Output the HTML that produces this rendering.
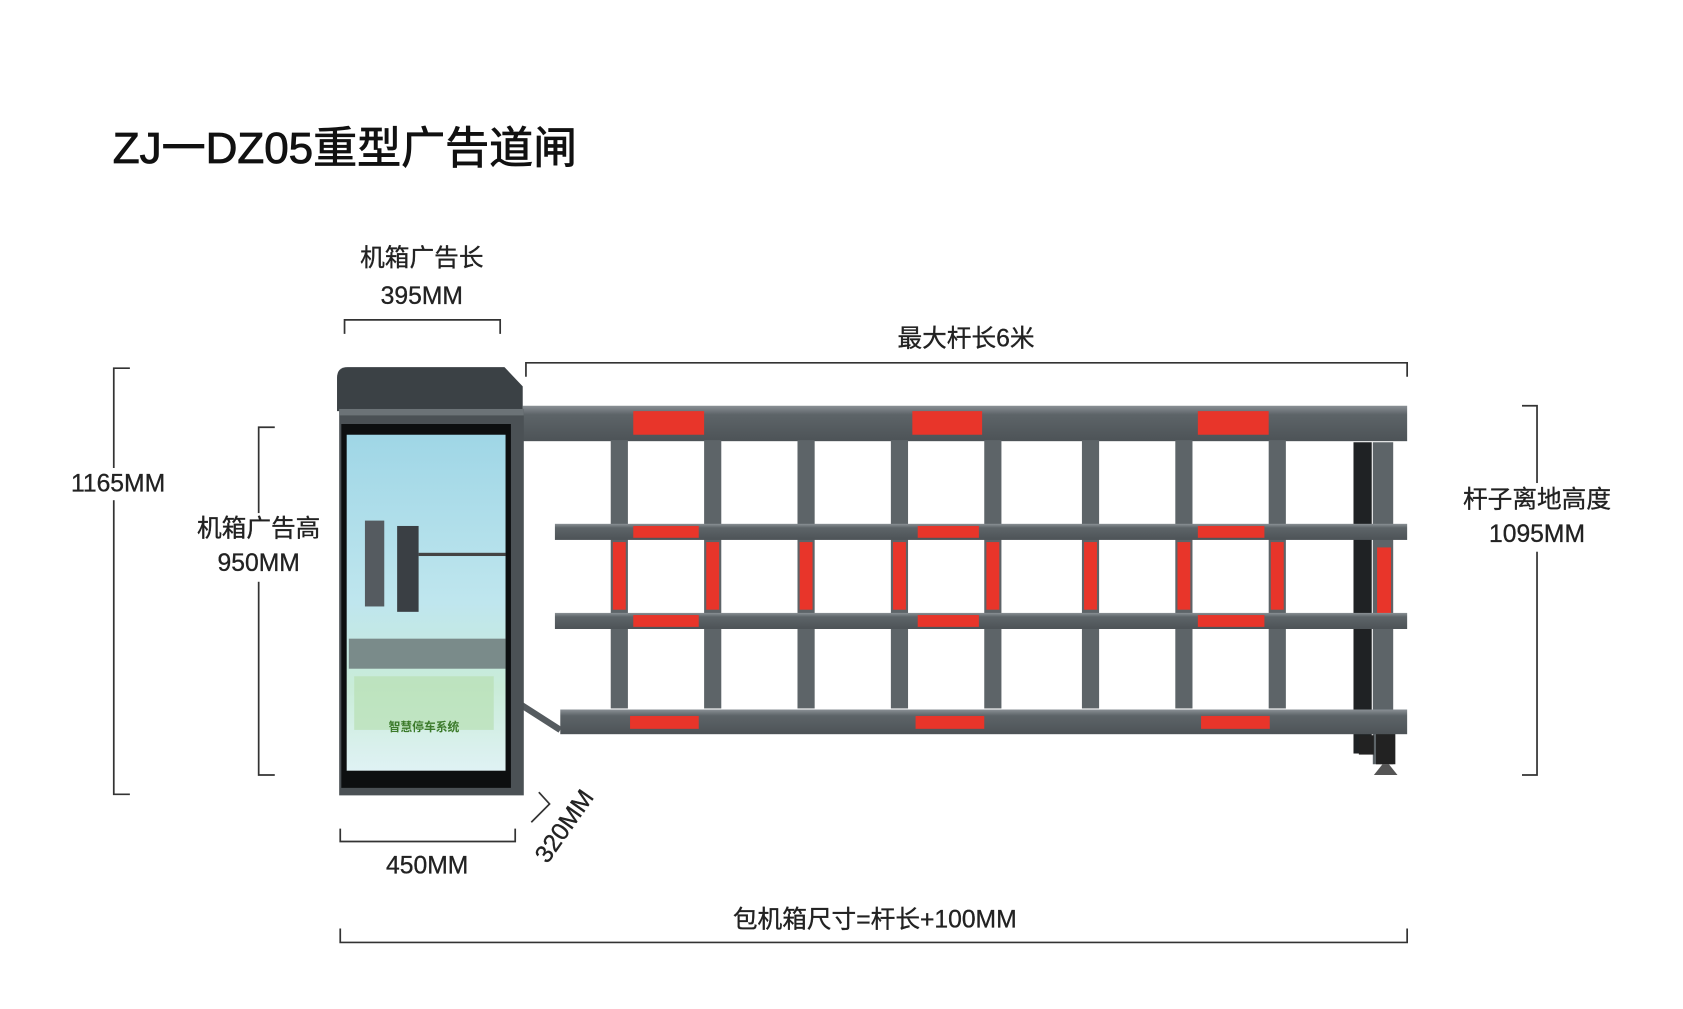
<!DOCTYPE html>
<html><head><meta charset="utf-8"><style>
html,body{margin:0;padding:0;background:#fff;width:1683px;height:1009px;overflow:hidden}
svg{display:block}
text{font-family:"Liberation Sans","Noto Sans CJK SC",sans-serif;fill:#222}
</style></head><body>
<svg width="1683" height="1009" viewBox="0 0 1568 940" xmlns="http://www.w3.org/2000/svg">
<defs>
<linearGradient id="scr" x1="0" y1="0" x2="0" y2="1">
<stop offset="0" stop-color="#9fd6e6"/><stop offset="0.5" stop-color="#bfe6ee"/><stop offset="0.75" stop-color="#c9ecd8"/><stop offset="1" stop-color="#dff2f4"/></linearGradient>
<linearGradient id="bar" x1="0" y1="0" x2="0" y2="1">
<stop offset="0" stop-color="#8a9095"/><stop offset="0.25" stop-color="#5d6468"/><stop offset="1" stop-color="#4d5357"/></linearGradient>
</defs>
<rect width="1568" height="940" fill="#fff"/>
<text x="105" y="152" font-size="41" style="fill:#111;stroke:#111;stroke-width:0.8">ZJ一DZ05重型广告道闸</text>

<g stroke="#333" stroke-width="1.6" fill="none">
<polyline points="321,311 321,298 466,298 466,311"/>
<polyline points="490,351 490,338 1311,338 1311,351"/>
<polyline points="121,343 106,343 106,740 121,740"/>
<polyline points="256,398 241,398 241,722 256,722"/>
<polyline points="1418,378 1432,378 1432,722 1418,722"/>
<polyline points="317,772 317,784 480,784 480,772"/>
<polyline points="317,865 317,878 1311,878 1311,865"/>
<polyline points="502,738 512,749 495,766"/>
</g>
<rect x="60" y="436" width="100" height="30" fill="#fff"/>
<rect x="178" y="478" width="128" height="64" fill="#fff"/>
<rect x="1356" y="450" width="152" height="64" fill="#fff"/>
<g font-size="23" text-anchor="middle" style="stroke:#222;stroke-width:0.3">
<text x="393" y="248">机箱广告长</text>
<text x="393" y="283">395MM</text>
<text x="900" y="323">最大杆长6米</text>
<text x="110" y="458">1165MM</text>
<text x="241" y="500">机箱广告高</text>
<text x="241" y="532">950MM</text>
<text x="1432" y="473">杆子离地高度</text>
<text x="1432" y="505">1095MM</text>
<text x="398" y="814">450MM</text>
<text x="815" y="864">包机箱尺寸=杆长+100MM</text>
<text x="0" y="0" transform="translate(532,774) rotate(-55)">320MM</text>
</g>

<path d="M486,657 L522,680" stroke="#555b5f" stroke-width="6"/>
<rect x="487" y="378" width="824" height="33" fill="url(#bar)"/>
<rect x="590" y="383" width="66" height="22" fill="#e8352a"/>
<rect x="850" y="383" width="65" height="22" fill="#e8352a"/>
<rect x="1116" y="383" width="66" height="22" fill="#e8352a"/>
<g fill="#5d6468">
<rect x="569" y="410" width="16" height="250"/><rect x="656" y="410" width="16" height="250"/>
<rect x="743" y="410" width="16" height="250"/><rect x="830" y="410" width="16" height="250"/>
<rect x="917" y="410" width="16" height="250"/><rect x="1008" y="410" width="16" height="250"/>
<rect x="1095" y="410" width="16" height="250"/><rect x="1182" y="410" width="16" height="250"/>
</g>
<g fill="#e8352a">
<rect x="571" y="505" width="12" height="63"/><rect x="658" y="505" width="12" height="63"/>
<rect x="745" y="505" width="12" height="63"/><rect x="832" y="505" width="12" height="63"/>
<rect x="919" y="505" width="12" height="63"/><rect x="1010" y="505" width="12" height="63"/>
<rect x="1097" y="505" width="12" height="63"/><rect x="1184" y="505" width="12" height="63"/>
</g>
<rect x="1261" y="412" width="17" height="290" fill="#1f2224"/>
<rect x="1279" y="412" width="19" height="300" fill="#5d6468"/>
<rect x="1283" y="510" width="13" height="70" fill="#e8352a"/>
<rect x="1266" y="685" width="14" height="18" fill="#222"/>
<rect x="1282" y="680" width="18" height="32" fill="#222"/>
<path d="M1280,722 L1302,722 L1294,712 L1288,712 Z" fill="#555"/>
<rect x="517" y="488" width="794" height="15" fill="url(#bar)"/>
<rect x="517" y="571" width="794" height="15" fill="url(#bar)"/>
<rect x="522" y="661" width="789" height="23" fill="url(#bar)"/>
<g fill="#e8352a">
<rect x="590" y="490" width="61" height="11"/><rect x="855" y="490" width="57" height="11"/><rect x="1116" y="490" width="62" height="11"/>
<rect x="590" y="573" width="61" height="11"/><rect x="855" y="573" width="57" height="11"/><rect x="1116" y="573" width="62" height="11"/>
<rect x="587" y="667" width="64" height="12"/><rect x="853" y="667" width="64" height="12"/><rect x="1119" y="667" width="64" height="12"/>
</g>
<path d="M314,352 Q314,342 324,342 L470,342 L487,360 L487,383 L314,383 Z" fill="#3b4145"/>
<rect x="316" y="381" width="172" height="360" fill="#4b5155"/>
<rect x="316" y="381" width="172" height="6" fill="#6c7377"/>
<rect x="318" y="395" width="158" height="339" fill="#0d0f10"/>
<rect x="323" y="405" width="148" height="313" fill="url(#scr)"/>
<rect x="340" y="485" width="18" height="80" fill="#555b60"/>
<rect x="370" y="490" width="20" height="80" fill="#3a3f44"/>
<rect x="390" y="515" width="81" height="3" fill="#444"/>
<rect x="325" y="595" width="146" height="28" fill="#7a8b8a"/>
<rect x="330" y="630" width="130" height="50" fill="#b8e0b4" opacity="0.7"/>
<text x="395" y="681" font-size="11" text-anchor="middle" style="fill:#3b7a2a;font-weight:bold">智慧停车系统</text>
</svg>
</body></html>
